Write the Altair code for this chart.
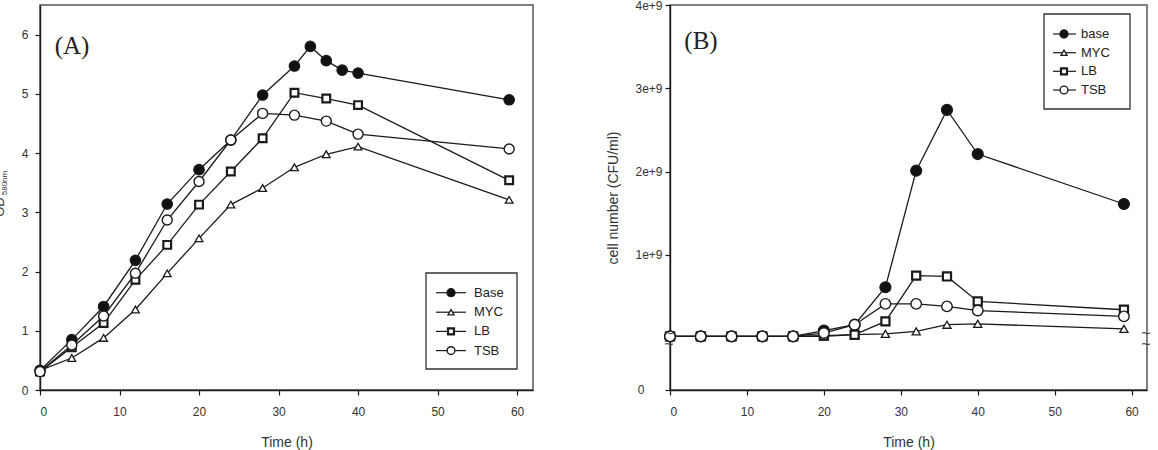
import altair as alt
import pandas as pd

# ---------------- Panel A: optical density ----------------
time_a_base = [0, 4, 8, 12, 16, 20, 24, 28, 32, 34, 36, 38, 40, 59]
od_base = [0.33, 0.85, 1.41, 2.19, 3.14, 3.72, 4.22, 4.98, 5.47, 5.80, 5.56, 5.40, 5.35, 4.90]
time_a = [0, 4, 8, 12, 16, 20, 24, 28, 32, 36, 40, 59]
od_myc = [0.33, 0.54, 0.88, 1.36, 1.97, 2.56, 3.13, 3.41, 3.76, 3.98, 4.11, 3.21]
od_lb = [0.31, 0.72, 1.13, 1.86, 2.45, 3.13, 3.69, 4.25, 5.02, 4.92, 4.81, 3.54]
od_tsb = [0.31, 0.76, 1.25, 1.97, 2.87, 3.52, 4.22, 4.67, 4.64, 4.54, 4.32, 4.07]

# ---------------- Panel B: viable cell counts ----------------
time_b = [0, 4, 8, 12, 16, 20, 24, 28, 32, 36, 40, 59]
cfu_base = [0.02e9, 0.02e9, 0.02e9, 0.02e9, 0.02e9, 0.09e9, 0.16e9, 0.61e9, 2.01e9, 2.74e9, 2.21e9, 1.61e9]
cfu_myc = [0.02e9, 0.02e9, 0.02e9, 0.02e9, 0.02e9, 0.02e9, 0.04e9, 0.05e9, 0.08e9, 0.16e9, 0.17e9, 0.11e9]
cfu_lb = [0.02e9, 0.02e9, 0.02e9, 0.02e9, 0.02e9, 0.03e9, 0.04e9, 0.20e9, 0.75e9, 0.74e9, 0.44e9, 0.34e9]
cfu_tsb = [0.02e9, 0.02e9, 0.02e9, 0.02e9, 0.02e9, 0.06e9, 0.16e9, 0.41e9, 0.41e9, 0.38e9, 0.33e9, 0.26e9]

labels_a = ["Base", "MYC", "LB", "TSB"]
labels_b = ["base", "MYC", "LB", "TSB"]
x_ticks = [0, 10, 20, 30, 40, 50, 60]
y_ticks_a = [0, 1, 2, 3, 4, 5, 6]
y_break_b = -0.624e9          # position of the "0" below the axis break
y_ticks_b = [y_break_b, 1e9, 2e9, 3e9, 4e9]

# marker style per series: (shape, fill, stroke width, size)
STYLE = [
    ("circle", "#111111", 1.2, 110),
    ("triangle-up", "white", 1.3, 60),
    ("square", "white", 2.2, 60),
    ("circle", "white", 1.4, 100),
]
INK = "#1a1a1a"
FONT = "Liberation Sans"


def deco():
    return alt.Chart(alt.Data(values=[{"k": 0}]))


def legend_layers(labels, box, rows, line_x, mark_x, text_x, size_scale):
    x0, x1, y0, y1 = box
    layers = [
        deco().mark_rect(fill="white", stroke="#333", strokeWidth=1.3).encode(
            x=alt.value(x0), x2=alt.value(x1), y=alt.value(y0), y2=alt.value(y1))
    ]
    for (shape, fill, sw, size), lab, ry in zip(STYLE, labels, rows):
        layers.append(deco().mark_rule(color=INK, strokeWidth=1.2).encode(
            x=alt.value(line_x[0]), x2=alt.value(line_x[1]), y=alt.value(ry)))
        layers.append(deco().mark_point(shape=shape, filled=True, fill=fill, stroke=INK,
                                        strokeWidth=sw, size=size * size_scale, opacity=1).encode(
            x=alt.value(mark_x), y=alt.value(ry)))
        layers.append(deco().mark_text(text=lab, align="left", baseline="middle", font=FONT,
                                       fontSize=13, color="#222").encode(
            x=alt.value(text_x), y=alt.value(ry)))
    return layers


def series_layers(frames, x_enc, y_enc, size_scale=1.0):
    lines = [alt.Chart(df).mark_line(color=INK, strokeWidth=1.3).encode(x=x_enc, y=y_enc)
             for df in frames]
    points = [alt.Chart(df).mark_point(shape=shape, filled=True, fill=fill, stroke=INK,
                                       strokeWidth=sw, size=size * size_scale, opacity=1)
              .encode(x=x_enc, y=y_enc)
              for df, (shape, fill, sw, size) in zip(frames, STYLE)]
    return lines + points


def x_encoding():
    return alt.X("t:Q", scale=alt.Scale(domain=[0, 62], nice=False, zero=False),
                 axis=alt.Axis(values=x_ticks, title="Time (h)", format="d", tickSize=5,
                               labelPadding=11, titleBaseline="middle", titleY=52,
                               titleFontWeight="normal"))


# ---- panel A ----
frames_a = [
    pd.DataFrame({"t": time_a_base, "v": od_base}),
    pd.DataFrame({"t": time_a, "v": od_myc}),
    pd.DataFrame({"t": time_a, "v": od_lb}),
    pd.DataFrame({"t": time_a, "v": od_tsb}),
]
y_a = alt.Y("v:Q", scale=alt.Scale(domain=[0, 6.5], nice=False),
            axis=alt.Axis(values=y_ticks_a, title=None, tickSize=5, labelPadding=7))

panel_a = alt.layer(
    *series_layers(frames_a, x_encoding(), y_a),
    *legend_layers(labels_a, (386, 477, 268, 364), [287.7, 307.2, 326.4, 345.6],
                   (396, 426), 411, 434, 0.6),
    deco().mark_text(text="(A)", font="Liberation Serif", fontSize=25, color="#222",
                     align="center", baseline="middle").encode(x=alt.value(32), y=alt.value(41)),
    deco().mark_text(text="OD", font=FONT, fontSize=13, color="#333", angle=270,
                     align="center", baseline="middle").encode(x=alt.value(-40), y=alt.value(202)),
    deco().mark_text(text="580nm", font=FONT, fontSize=8, color="#333", angle=270,
                     align="center", baseline="middle").encode(x=alt.value(-35), y=alt.value(178)),
).properties(width=493, height=385)

# ---- panel B ----
frames_b = [
    pd.DataFrame({"t": time_b, "v": cfu_base}),
    pd.DataFrame({"t": time_b, "v": cfu_myc}),
    pd.DataFrame({"t": time_b, "v": cfu_lb}),
    pd.DataFrame({"t": time_b, "v": cfu_tsb}),
]
y_b = alt.Y("v:Q", scale=alt.Scale(domain=[y_break_b, 4e9], nice=False, zero=False),
            axis=alt.Axis(values=y_ticks_b, title="cell number (CFU/ml)", tickSize=5,
                          labelPadding=3, titleX=-57, titleBaseline="middle",
                          titleFontWeight="normal",
                          labelExpr="datum.value < 0 ? '' : (round(datum.value / 1e9) + 'e+9')"))

# the zero below the axis break sits further left than the other labels
zero_label_b = deco().mark_text(text="0", font=FONT, fontSize=12, color="#333",
                                align="center", baseline="middle").encode(
    x=alt.value(-29), y=alt.value(385))

break_marks = [
    deco().mark_text(text="~", font=FONT, fontSize=16, color="#444", align="center",
                     baseline="middle").encode(x=alt.value(bx), y=alt.value(by))
    for bx in (-1, 476) for by in (329, 340)
]

panel_b = alt.layer(
    *series_layers(frames_b, x_encoding(), y_b, 1.1),
    *legend_layers(labels_b, (374, 460, 9, 104), [29, 47.7, 66.3, 85],
                   (383, 406), 394, 411, 0.6),
    deco().mark_text(text="(B)", font="Liberation Serif", fontSize=25, color="#222",
                     align="center", baseline="middle").encode(x=alt.value(31), y=alt.value(36)),
    zero_label_b,
    *break_marks,
).properties(width=477, height=385)

chart = alt.hconcat(panel_a, panel_b, spacing=137, bounds="flush").properties(
    padding={"left": -7, "top": -2, "right": 5, "bottom": 0}
).configure_view(
    stroke="#555", strokeWidth=1.5
).configure_axis(
    grid=False, domainColor=INK, domainWidth=1.4, tickColor=INK, tickWidth=1.2,
    labelFont=FONT, labelFontSize=12, labelColor="#333",
    titleFont=FONT, titleFontSize=14, titleColor="#333",
)

chart.save("out.html", embed_options={"renderer": "svg", "actions": False})
